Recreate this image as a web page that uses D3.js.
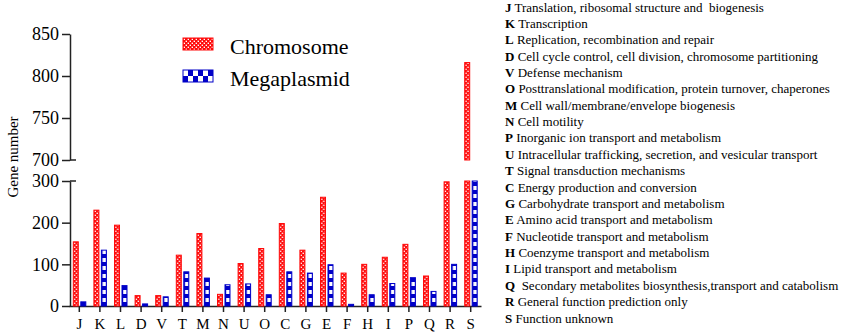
<!DOCTYPE html>
<html>
<head>
<meta charset="UTF-8">
<title>COG categories</title>
<style>
  body { margin: 0; background: #fff; }
  svg text { font-family: "Liberation Serif", "Times New Roman", serif; fill: #000; }
  .axis path, .axis line { stroke: #222; stroke-width: 1.5; }
  .desc { font-size: 13px; white-space: pre; }
</style>
</head>
<body>
<div id="chart"></div>
<script src="https://d3js.org/d3.v7.min.js"></script>
<script>
var categories = ["J","K","L","D","V","T","M","N","U","O","C","G","E","F","H","I","P","Q","R","S"];
var chromosome = [154,230,194,25,25,122,174,28,102,138,198,134,261,79,100,117,148,72,298,816];
var megaplasmid = [10,134,49,5,22,82,67,51,53,27,82,79,99,4,27,54,68,35,100,300];
var seriesNames = ["Chromosome", "Megaplasmid"];
var lowerTicks = [0,100,200,300];
var upperTicks = [700,750,800,850];
var descriptions = [
  "Translation, ribosomal structure and  biogenesis",
  "Transcription",
  "Replication, recombination and repair",
  "Cell cycle control, cell division, chromosome partitioning",
  "Defense mechanism",
  "Posttranslational modification, protein turnover, chaperones",
  "Cell wall/membrane/envelope biogenesis",
  "Cell motility",
  "Inorganic ion transport and metabolism",
  "Intracellular trafficking, secretion, and vesicular transport",
  "Signal transduction mechanisms",
  "Energy production and conversion",
  "Carbohydrate transport and metabolism",
  "Amino acid transport and metabolism",
  "Nucleotide transport and metabolism",
  "Coenzyme transport and metabolism",
  "Lipid transport and metabolism",
  " Secondary metabolites biosynthesis,transport and catabolism",
  "General function prediction only",
  "Function unknown"
];
var descLetters = ["J","K","L","D","V","O","M","N","P","U","T","C","G","E","F","H","I","Q","R","S"];

var w = 856, h = 336;
var red = "#ff0a0a", blue = "#0000c8";
var serif = "'Liberation Serif', 'Times New Roman', serif";

var svg = d3.select("#chart").append("svg")
  .attr("width", w).attr("height", h);

// patterns
var defs = svg.append("defs");
var pr = defs.append("pattern").attr("id", "redChk")
  .attr("patternUnits", "userSpaceOnUse").attr("width", 4).attr("height", 4);
pr.append("rect").attr("width", 4).attr("height", 4).attr("fill", red);
pr.append("rect").attr("x", 0.6).attr("y", 0.6).attr("width", 1.4).attr("height", 1.4).attr("fill", "#fff");
pr.append("rect").attr("x", 2.6).attr("y", 2.6).attr("width", 1.4).attr("height", 1.4).attr("fill", "#fff");

var pb = defs.append("pattern").attr("id", "blueCol")
  .attr("patternUnits", "userSpaceOnUse").attr("width", 6).attr("height", 8);
pb.append("rect").attr("width", 6).attr("height", 8).attr("fill", blue);
pb.append("rect").attr("x", 1.2).attr("y", 0).attr("width", 3.6).attr("height", 4).attr("fill", "#fff");

var pl = defs.append("pattern").attr("id", "blueChk")
  .attr("patternUnits", "userSpaceOnUse").attr("width", 10).attr("height", 12);
pl.append("rect").attr("width", 10).attr("height", 12).attr("fill", blue);
pl.append("rect").attr("width", 5).attr("height", 6).attr("fill", "#fff");
pl.append("rect").attr("x", 5).attr("y", 6).attr("width", 5).attr("height", 6).attr("fill", "#fff");

// scales
var x = d3.scaleBand().domain(categories).range([69, 481]);
var yLow = d3.scaleLinear().domain([0, 300]).range([306, 181]).clamp(true);
var yUp = d3.scaleLinear().domain([700, 850]).range([160, 34]);
var axisX = 70;

// y axes
var gUp = svg.append("g").attr("class", "axis")
  .attr("transform", "translate(" + axisX + ",0)")
  .call(d3.axisLeft(yUp).tickValues(upperTicks).tickSize(8).tickSizeOuter(0).tickPadding(3));
var gLow = svg.append("g").attr("class", "axis")
  .attr("transform", "translate(" + axisX + ",0)")
  .call(d3.axisLeft(yLow).tickValues(lowerTicks).tickSize(8).tickSizeOuter(0).tickPadding(3));
svg.selectAll(".axis .domain").attr("fill", "none");
[gUp, gLow].forEach(function(g) {
  g.attr("font-family", serif).attr("font-size", 18);
  g.selectAll("text").style("font-family", serif).style("font-size", "18px");
});

// break marks extend to the right of the axis
[yUp(700), yLow(300)].forEach(function(yy) {
  svg.append("line").attr("x1", axisX).attr("x2", axisX + 6)
    .attr("y1", yy).attr("y2", yy)
    .attr("stroke", "#222").attr("stroke-width", 1.5);
});

// x axis
var gx = svg.append("g").attr("class", "axis xaxis")
  .attr("transform", "translate(0," + yLow(0) + ")")
  .call(d3.axisBottom(x).tickSize(6).tickSizeOuter(0).tickPadding(5));
gx.attr("font-family", serif).attr("font-size", 15);
gx.select(".domain").attr("fill", "none");
gx.selectAll("text").attr("dy", "0.78em")
  .style("font-family", serif).style("font-size", "15px");

// bars
var data = categories.map(function(c, i) {
  return { cat: c, chr: chromosome[i], meg: megaplasmid[i] };
});

function drawBar(d, val, dx, fill, stroke) {
  var cx = x(d.cat) + x.bandwidth() / 2;
  var g = svg.append("g").attr("transform", "translate(" + (cx + dx) + "," + yLow(0) + ")");
  var top = yLow(Math.min(val, 300)) - yLow(0);
  g.append("rect").attr("x", 0).attr("y", top).attr("width", 5).attr("height", -top)
    .attr("fill", fill).attr("stroke", stroke).attr("stroke-width", 1);
  if (val > 700) {
    var g2 = svg.append("g").attr("transform", "translate(" + (cx + dx) + "," + yUp(700) + ")");
    var t2 = yUp(val) - yUp(700);
    g2.append("rect").attr("x", 0).attr("y", t2).attr("width", 5).attr("height", -t2)
      .attr("fill", fill).attr("stroke", stroke).attr("stroke-width", 1);
  }
}
data.forEach(function(d) {
  drawBar(d, d.chr, -6, "url(#redChk)", red);
  drawBar(d, d.meg, 1.5, "url(#blueCol)", blue);
});

// legend
var legend = svg.append("g");
var fills = ["url(#redChk)", "url(#blueChk)"], strokes = [red, blue];
seriesNames.forEach(function(name, i) {
  var g = legend.append("g").attr("transform", "translate(183," + (38 + i * 32) + ")");
  g.append("rect").attr("width", 30).attr("height", 12)
    .attr("fill", fills[i]).attr("stroke", strokes[i]).attr("stroke-width", 1);
  g.append("text").attr("x", 47).attr("y", 16)
    .style("font-family", serif).style("font-size", "22px").text(name);
});

// y label
svg.append("text")
  .attr("transform", "translate(18,157) rotate(-90)")
  .attr("text-anchor", "middle")
  .style("font-family", serif)
  .style("font-size", "15px")
  .text("Gene number");

// category descriptions
var desc = svg.append("g").attr("transform", "translate(505,0)");
descLetters.forEach(function(l, i) {
  var t = desc.append("text").attr("class", "desc").attr("x", 0).attr("y", 11.5 + i * 16.37)
    .style("font-family", serif);
  t.append("tspan").style("font-weight", "bold").text(l);
  t.append("tspan").text(" " + descriptions[i]);
});
</script>
</body>
</html>
